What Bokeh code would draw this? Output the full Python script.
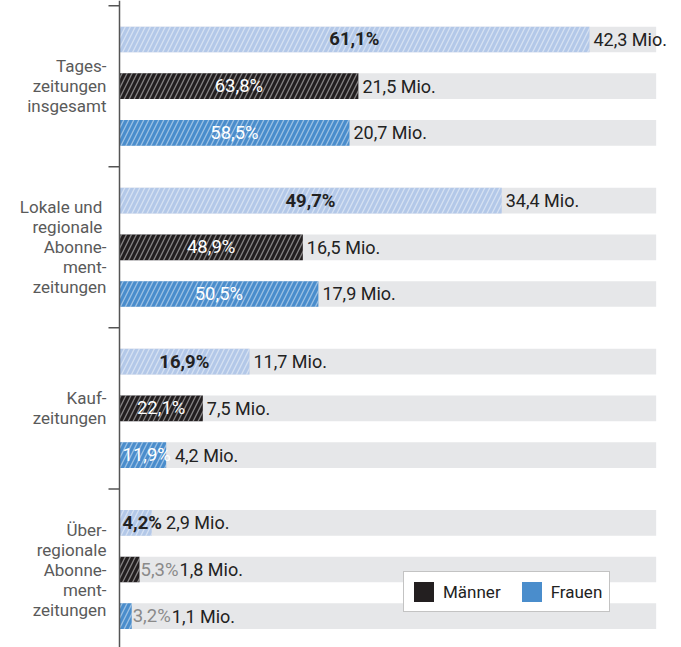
from bokeh.plotting import figure
from bokeh.models import Range1d, Span, Legend, LegendItem, ColumnDataSource
from bokeh.core.properties import value
from bokeh.embed import file_html
from bokeh.resources import INLINE

# ---------------- data ----------------
categories = [
    "Tages-\nzeitungen\ninsgesamt",
    "Lokale und \nregionale \nAbonne-\nment-\nzeitungen",
    "Kauf-\nzeitungen",
    "Über-\nregionale\nAbonne-\nment-\nzeitungen",
]
series = ["Gesamt", "Männer", "Frauen"]
mio_gesamt = [42.3, 34.4, 11.7, 2.9]
mio_maenner = [21.5, 16.5, 7.5, 1.8]
mio_frauen = [20.7, 17.9, 4.2, 1.1]
pct_gesamt = [61.1, 49.7, 16.9, 4.2]
pct_maenner = [63.8, 48.9, 22.1, 5.3]
pct_frauen = [58.5, 50.5, 11.9, 3.2]
track_max = 48.3  # length of grey background track (Mio.)

# ---------------- style ----------------
FONT = "Roboto"
FS = "17px"
FS_VAL = 18.5
FS_MIO = "18px"
colors = {"Gesamt": "#b3c8e8", "Männer": "#231f20", "Frauen": "#4a8dcc"}
TRACK = "#e6e7e9"

W, H = 681, 647
x0, x1 = -10.71, 50.58
px_per_x = W / (x1 - x0)
G = 3.45                       # group pitch in row units
y_top, y_bot = -0.835, 13.02
BAR_H = 0.55

def tw(s, size, bold=False):
    """rough text width in px for Roboto"""
    w = 0.0
    for ch in s:
        if ch.isdigit():
            w += 0.562
        elif ch == ",":
            w += 0.2
        elif ch == "%":
            w += 0.733
        else:
            w += 0.5
    return w * size * (1.04 if bold else 1.0)

def fmt(v, suffix):
    return f"{v:.1f}".replace(".", ",") + suffix

p = figure(width=W, height=H, output_backend="svg", toolbar_location=None,
           x_range=Range1d(x0, x1), y_range=Range1d(y_bot, y_top),
           x_axis_location=None, y_axis_location=None, min_border=0)
p.outline_line_color = None
p.xgrid.visible = False
p.ygrid.visible = False

mio = {"Gesamt": mio_gesamt, "Männer": mio_maenner, "Frauen": mio_frauen}
pct = {"Gesamt": pct_gesamt, "Männer": pct_maenner, "Frauen": pct_frauen}

# grey tracks
ys_all = [g * G + r for g in range(len(categories)) for r in range(len(series))]
p.hbar(y=ys_all, left=0, right=track_max, height=BAR_H, fill_color=TRACK, line_color=None)

solid = {}
for r, s in enumerate(series):
    ys = [g * G + r for g in range(len(categories))]
    src = ColumnDataSource(dict(y=ys, right=mio[s]))
    solid[s] = p.hbar(y="y", left=0, right="right", height=BAR_H, source=src,
                      fill_color=colors[s], line_color=None)
    p.hbar(y="y", left=0, right="right", height=BAR_H, source=src,
           fill_alpha=0, line_color=None,
           hatch_pattern="/", hatch_color="white", hatch_alpha=0.45,
           hatch_scale=10, hatch_weight=1.3)

    # percent labels and Mio labels
    for g in range(len(categories)):
        y = g * G + r
        val = mio[s][g]
        bar_px = val * px_per_x
        ptxt = fmt(pct[s][g], "%")
        bold = s == "Gesamt"
        wpx = tw(ptxt, FS_VAL, bold)
        if s == "Gesamt":
            color, style = "#222222", "bold"
            inside = True
        else:
            inside = bar_px >= 30
            color = "white" if inside else "#8a8a8a"
            style = "normal"
        if inside:
            if bar_px >= wpx + 10:
                px_left = bar_px / 2 - wpx / 2
            else:
                px_left = 3
            end_px = max(bar_px, px_left + wpx)
            gap = 4
        else:
            px_left = bar_px + 1
            end_px = px_left + wpx
            gap = 1
        p.text(x=[px_left / px_per_x], y=[y], text=[ptxt], text_align="left",
               text_baseline="middle", text_color=color,
               text_font=value(FONT), text_font_size=f"{FS_VAL}px", text_font_style=style)
        p.text(x=[(end_px + gap) / px_per_x], y=[y], text=[fmt(val, " Mio.")],
               text_align="left", text_baseline="middle", text_color="#222222",
               text_font=value(FONT), text_font_size=FS_MIO)

# axis line and group brackets
p.add_layout(Span(location=0, dimension="height", line_color="#555555", line_width=1.5))
seps = [g * G - (G - (len(series) - 1)) / 2 for g in range(len(categories) + 1)]
p.segment(x0=[-11 / px_per_x] * len(seps), x1=[0] * len(seps), y0=seps, y1=seps,
          line_color="#555555", line_width=1.5)

# category labels
p.text(x=[-13 / px_per_x] * len(categories), y=[g * G + 1 for g in range(len(categories))],
       text=categories, text_align="right", text_baseline="middle",
       text_color="#5a5a5a", text_font=value(FONT), text_font_size=FS,
       text_line_height=1.0)

# legend (solid swatches)
legend = Legend(items=[LegendItem(label="Männer", renderers=[solid["Männer"]], index=0),
                       LegendItem(label="Frauen", renderers=[solid["Frauen"]], index=0)],
                orientation="horizontal", location=(403, 35), margin=0,
                padding=7, spacing=18, label_standoff=7,
                glyph_width=25, glyph_height=25,
                label_text_font=FONT, label_text_font_size=FS, label_text_color="#222222",
                border_line_color="#888888", border_line_width=1.5,
                background_fill_color="white", background_fill_alpha=1.0)
p.add_layout(legend)

open("out.html", "w").write(file_html(p, INLINE))
